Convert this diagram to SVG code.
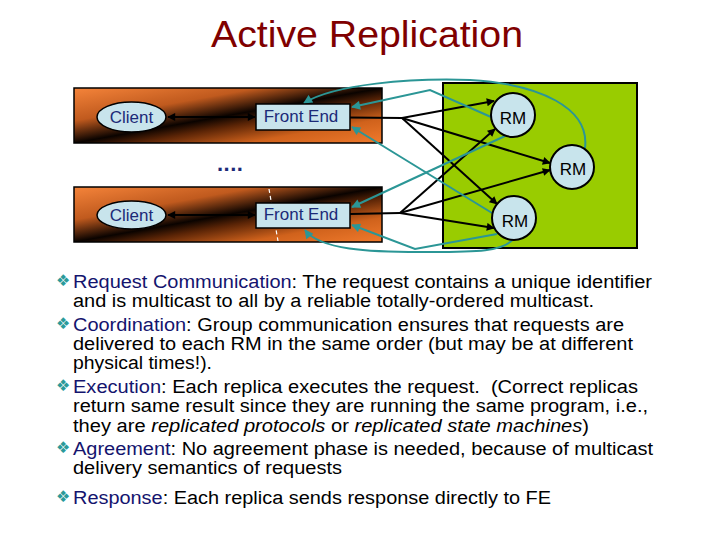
<svg xmlns="http://www.w3.org/2000/svg" width="720" height="540" viewBox="0 0 720 540">
<defs>
<linearGradient id="bar" x1="0" y1="0" x2="1" y2="1">
<stop offset="0" stop-color="#f5843a"/>
<stop offset="0.3" stop-color="#c05a1e"/>
<stop offset="0.5" stop-color="#0a0300"/>
<stop offset="0.6" stop-color="#5a2406"/>
<stop offset="0.78" stop-color="#d0621c"/>
<stop offset="1" stop-color="#f07a2c"/>
</linearGradient>
<marker id="ab" viewBox="0 0 10 10" refX="9" refY="5" markerWidth="9" markerHeight="8" markerUnits="userSpaceOnUse" orient="auto-start-reverse"><path d="M0,0 L10,5 L0,10 z" fill="#000"/></marker>
<marker id="at" viewBox="0 0 10 10" refX="9" refY="5" markerWidth="11" markerHeight="9" markerUnits="userSpaceOnUse" orient="auto"><path d="M0,0 L10,5 L0,10 z" fill="#2b9696"/></marker>
</defs>
<style>
.bar{fill:url(#bar);stroke:#000;stroke-width:1.5}
.lbl{font-family:"Liberation Sans",Arial,sans-serif;font-size:17px;fill:#1c2a78}
.nd{fill:#c8e4ec;stroke:#000;stroke-width:1.5}
.rm{fill:#c8e4ec;stroke:#000;stroke-width:2}
.rmt{font-family:"Liberation Sans",Arial,sans-serif;font-size:17px;fill:#000;text-anchor:middle}
.blk{fill:none;stroke:#000;stroke-width:2}
.blka{fill:none;stroke:#000;stroke-width:2;marker-end:url(#ab)}
.dbl{fill:none;stroke:#000;stroke-width:2;marker-start:url(#ab);marker-end:url(#ab)}
.tl{fill:none;stroke:#2b9696;stroke-width:2;marker-end:url(#at)}
.body{font-family:"Liberation Sans",Arial,sans-serif;font-size:18px;fill:#000;white-space:pre}
.k{fill:#14146e}
.bul{font-family:"DejaVu Sans",sans-serif;font-size:16px;fill:#2b9a9a}
</style>
<rect width="720" height="540" fill="#fff"/>
<text x="367" y="47" text-anchor="middle" font-family="Liberation Sans, Arial, sans-serif" font-size="36" fill="#800000" textLength="312" lengthAdjust="spacingAndGlyphs">Active Replication</text>

<g id="backgrounds">
<rect class="bar" x="74" y="88" width="308" height="55"/>
<rect class="bar" x="74" y="187" width="308" height="55"/>
<line x1="269" y1="189" x2="278" y2="241" stroke="#fff" stroke-width="1.2" stroke-dasharray="4,3"/>
<rect x="443" y="83" width="194" height="165" fill="#99cc00" stroke="#000" stroke-width="2"/>
<text x="217" y="171" font-family="Liberation Sans, Arial, sans-serif" font-size="22" font-weight="bold" fill="#1c2a78" letter-spacing="0.5">....</text>
</g>

<g id="connectors">
<line class="dbl" x1="168" y1="117" x2="255" y2="117"/>
<line class="dbl" x1="168" y1="215" x2="255" y2="215"/>
<polyline class="blk" points="350,117.5 402,118"/>
<line class="blka" x1="402" y1="118" x2="494" y2="101"/>
<line class="blka" x1="402" y1="118" x2="550" y2="163"/>
<line class="blka" x1="402" y1="118" x2="497" y2="204"/>
<polyline class="blk" points="350,214 400,213"/>
<line class="blka" x1="400" y1="213" x2="495" y2="129"/>
<line class="blka" x1="400" y1="213" x2="550" y2="170"/>
<line class="blka" x1="400" y1="213" x2="494" y2="228"/>
<path class="tl" d="M585,148 C590,108 540,84 470,80 C410,78 335,84 304,103"/>
<polyline class="tl" points="491,117 430,90 352,107"/>
<line class="tl" x1="492" y1="213" x2="352" y2="127"/>
<line class="tl" x1="505" y1="136" x2="352" y2="207"/>
<polyline class="tl" points="497,234 415,249 352,225"/>
<path class="tl" d="M515,237 C505,253 470,252 420,252 C370,252 320,250 305,230"/>
</g>

<g id="client1"><ellipse class="nd" cx="131.5" cy="117" rx="34.5" ry="15"/><text class="lbl" x="131.5" y="123" text-anchor="middle">Client</text></g>
<g id="fe1"><rect class="nd" x="256" y="104" width="94" height="26"/><text class="lbl" x="301" y="122" text-anchor="middle">Front End</text></g>
<g id="client2"><ellipse class="nd" cx="131.5" cy="215" rx="34.5" ry="14"/><text class="lbl" x="131.5" y="221" text-anchor="middle">Client</text></g>
<g id="fe2"><rect class="nd" x="256" y="203" width="94" height="25"/><text class="lbl" x="301" y="220" text-anchor="middle">Front End</text></g>
<g id="rm1"><circle class="rm" cx="513" cy="115" r="22"/><text class="rmt" x="513" y="124">RM</text></g>
<g id="rm2"><circle class="rm" cx="572" cy="167" r="22"/><text class="rmt" x="573" y="175">RM</text></g>
<g id="rm3"><circle class="rm" cx="514" cy="218" r="22"/><text class="rmt" x="515" y="227">RM</text></g>

<g id="text">
<text class="bul" x="56" y="286">❖</text>
<text class="body" x="73" y="288" textLength="579" lengthAdjust="spacingAndGlyphs"><tspan class="k">Request Communication</tspan>: The request contains a unique identifier</text>
<text class="body" x="73" y="307" textLength="521" lengthAdjust="spacingAndGlyphs">and is multicast to all by a reliable totally-ordered multicast.</text>
<text class="bul" x="56" y="329">❖</text>
<text class="body" x="73" y="331" textLength="551" lengthAdjust="spacingAndGlyphs"><tspan class="k">Coordination</tspan>: Group communication ensures that requests are</text>
<text class="body" x="73" y="350" textLength="560" lengthAdjust="spacingAndGlyphs">delivered to each RM in the same order (but may be at different</text>
<text class="body" x="73" y="369" textLength="139" lengthAdjust="spacingAndGlyphs">physical times!).</text>
<text class="bul" x="56" y="391">❖</text>
<text class="body" x="73" y="393" textLength="565" lengthAdjust="spacingAndGlyphs"><tspan class="k">Execution</tspan>: Each replica executes the request.  (Correct replicas</text>
<text class="body" x="73" y="412" textLength="575" lengthAdjust="spacingAndGlyphs">return same result since they are running the same program, i.e.,</text>
<text class="body" x="73" y="432" textLength="516" lengthAdjust="spacingAndGlyphs">they are <tspan font-style="italic">replicated protocols</tspan> or <tspan font-style="italic">replicated state machines</tspan>)</text>
<text class="bul" x="56" y="453">❖</text>
<text class="body" x="73" y="455" textLength="580" lengthAdjust="spacingAndGlyphs"><tspan class="k">Agreement</tspan>: No agreement phase is needed, because of multicast</text>
<text class="body" x="73" y="474" textLength="269" lengthAdjust="spacingAndGlyphs">delivery semantics of requests</text>
<text class="bul" x="56" y="502">❖</text>
<text class="body" x="73" y="504" textLength="478" lengthAdjust="spacingAndGlyphs"><tspan class="k">Response</tspan>: Each replica sends response directly to FE</text>
</g>
</svg>
